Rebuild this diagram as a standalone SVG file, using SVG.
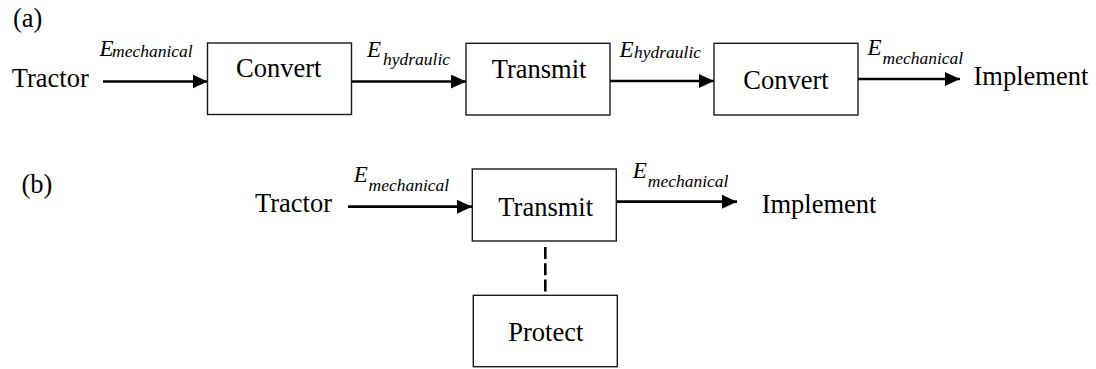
<svg xmlns="http://www.w3.org/2000/svg" width="1096" height="369" viewBox="0 0 1096 369">
  <style>
    .box { fill: #ffffff; stroke: #1a1a1a; stroke-width: 1.4; }
    .t { font-family: "Liberation Serif", "Times New Roman", Times, serif; font-size: 26.5px; fill: #000; }
    .e { font-family: "Liberation Serif", "Times New Roman", Times, serif; font-style: italic; font-size: 23px; fill: #000; }
    .s { font-family: "Liberation Serif", "Times New Roman", Times, serif; font-style: italic; font-size: 17.5px; fill: #000; }
    .arr { stroke: #000; stroke-width: 2.7; fill: none; marker-end: url(#ah); }
    .dash { stroke: #000; stroke-width: 2.6; fill: none; stroke-dasharray: 12 4.3; }
  </style>
  <defs>
    <marker id="ah" viewBox="0 0 15 14" refX="15" refY="7" markerWidth="15" markerHeight="14" markerUnits="userSpaceOnUse" orient="auto">
      <path d="M0,0 L15,7 L0,14 Z" fill="#000"/>
    </marker>
  </defs>

  <rect width="1096" height="369" fill="#ffffff"/>

  <text class="t" x="13" y="27">(a)</text>
  <text class="t" x="21.5" y="193">(b)</text>

  <g id="connectors">
    <line class="arr" x1="103" y1="81.5" x2="207.5" y2="81.5"/>
    <line class="arr" x1="352" y1="81.5" x2="466" y2="81.5"/>
    <line class="arr" x1="610" y1="81" x2="714" y2="81"/>
    <line class="arr" x1="858" y1="79" x2="960" y2="79"/>
    <line class="arr" x1="348" y1="206.7" x2="472" y2="206.7"/>
    <line class="arr" x1="616" y1="201.7" x2="737" y2="201.7"/>
    <line class="dash" x1="545.3" y1="247" x2="545.3" y2="295"/>
  </g>

  <g id="labels">
    <text class="e" x="99.5" y="56">E</text><text class="s" x="112" y="57">mechanical</text>
    <text class="e" x="367" y="57.3">E</text><text class="s" x="383" y="65">hydraulic</text>
    <text class="e" x="619.5" y="56.7">E</text><text class="s" x="634" y="58">hydraulic</text>
    <text class="e" x="867.5" y="55">E</text><text class="s" x="882.5" y="64.3">mechanical</text>
    <text class="e" x="353.8" y="181.7">E</text><text class="s" x="368.5" y="190.7">mechanical</text>
    <text class="e" x="632.8" y="178.3">E</text><text class="s" x="647.8" y="187.3">mechanical</text>
  </g>

  <g id="tractor-a"><text class="t" x="11.7" y="87.3">Tractor</text></g>
  <g id="convert-1">
    <rect class="box" x="207.5" y="43" width="144" height="71.5"/>
    <text class="t" x="236" y="76.7">Convert</text>
  </g>
  <g id="transmit-a">
    <rect class="box" x="466" y="43.3" width="144" height="71.7"/>
    <text class="t" x="491.7" y="78.3">Transmit</text>
  </g>
  <g id="convert-2">
    <rect class="box" x="714" y="43.3" width="144" height="71.7"/>
    <text class="t" x="743.3" y="89">Convert</text>
  </g>
  <g id="implement-a"><text class="t" x="973.5" y="84.5">Implement</text></g>

  <g id="tractor-b"><text class="t" x="255" y="212.3">Tractor</text></g>
  <g id="transmit-b">
    <rect class="box" x="472.3" y="169" width="144" height="72"/>
    <text class="t" x="498.3" y="215.7">Transmit</text>
  </g>
  <g id="implement-b"><text class="t" x="761.7" y="212.7">Implement</text></g>
  <g id="protect">
    <rect class="box" x="473.3" y="295.3" width="144" height="71.4"/>
    <text class="t" x="508.3" y="340.7">Protect</text>
  </g>
</svg>
